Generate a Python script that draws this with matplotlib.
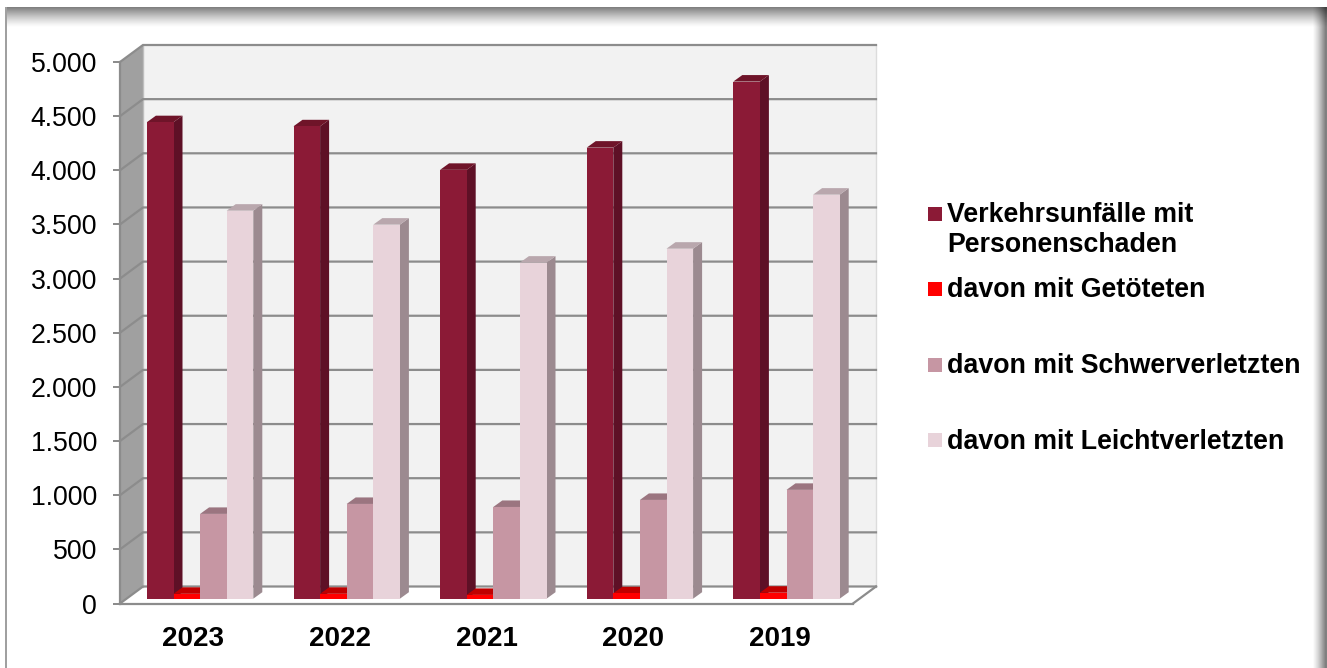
import numpy as np
import matplotlib
matplotlib.use("Agg")
import matplotlib.pyplot as plt
from matplotlib.patches import Polygon, Rectangle

plt.rcParams['font.family'] = ['Liberation Sans', 'DejaVu Sans']

years = ['2023', '2022', '2021', '2020', '2019']
series_names = ['Verkehrsunfälle mit\nPersonenschaden', 'davon mit Getöteten',
                'davon mit Schwerverletzten', 'davon mit Leichtverletzten']
personenschaden = [4400, 4362, 3960, 4165, 4775]
getoetete = [45, 45, 35, 50, 55]
schwerverletzte = [783, 875, 847, 912, 1005]
leichtverletzte = [3583, 3454, 3103, 3232, 3731]
y_ticks = [0, 500, 1000, 1500, 2000, 2500, 3000, 3500, 4000, 4500, 5000]

front = ['#8B1A36', '#FF0000', '#C696A3', '#E8D3DA']
side = ['#5E1026', '#990000', '#8F6C76', '#9C8A90']
top = ['#6F1429', '#C00000', '#9B7580', '#B9A7AD']
GRID = '#8C8C8C'

W, H = 1327, 668
fig = plt.figure(figsize=(W / 100, H / 100), dpi=100, facecolor='white')

# picture frame with soft shadow
bg = fig.add_axes([0, 0, 1, 1], zorder=0)
bg.set_xlim(0, W); bg.set_ylim(H, 0); bg.axis('off')
yy, xx = np.mgrid[0:H, 0:W]
shade_top = np.clip((27 - yy) / 20, 0, 1) ** 1.3 * 0.50
shade_right = np.clip((xx - 1312) / 13, 0, 1) ** 1.3 * 0.50
img = (1 - shade_top) * (1 - shade_right)
img[yy < 7] = 1
img[xx < 6] = 1
bg.imshow(img, cmap='gray', vmin=0, vmax=1, extent=(0, W, H, 0), aspect='auto', interpolation='bilinear')
bg.add_patch(Rectangle((5, 7), 2, H, color='#A0A0A0', lw=0))
bg.set_xlim(0, W); bg.set_ylim(H, 0)

L, R, T, B = 120, 853, 62, 603.5
ax = fig.add_axes([L / W, 1 - B / H, (R - L) / W, (B - T) / H], zorder=1)
ax.patch.set_alpha(0)
ax.set_xlim(0, 5)
ax.set_ylim(0, 5000)
px_x = 5 / (R - L)
px_y = 5000 / (B - T)
dw, dh = 23 * px_x, 17 * px_y   # wall depth

# walls and floor
ax.add_patch(Polygon([(dw, dh), (5 + dw, dh), (5 + dw, 5000 + dh), (dw, 5000 + dh)],
                     fc='#F2F2F2', ec='none', clip_on=False, zorder=1))
ax.add_patch(Polygon([(0, 0), (dw, dh), (dw, 5000 + dh), (0, 5000)],
                     fc='#A0A0A0', ec='none', clip_on=False, zorder=1))
ax.plot([5 + dw, 5 + dw], [dh, 5000 + dh], color='#DCDCDC', lw=1, clip_on=False, zorder=2)
ax.plot([dw, dw], [dh, 5000 + dh], color='#BEBEBE', lw=1, clip_on=False, zorder=2)
for v in y_ticks:
    ax.plot([0, dw, 5 + dw], [v, v + dh, v + dh], color=GRID, lw=1.6, clip_on=False, zorder=2,
            solid_joinstyle='miter')
ax.plot([5, 5 + dw], [0, dh], color=GRID, lw=1.6, clip_on=False, zorder=2)

# bars (oblique 3-D look)
all_series = [personenschaden, getoetete, schwerverletzte, leichtverletzte]
w = 26.6 / 146.6
off_x, off_y = 6.8 * px_x, 4.8 * px_y
dx, dy = 9 * px_x, 6.5 * px_y
z = 3
for i in range(len(years)):
    for j, vals in enumerate(all_series):
        v = vals[i]
        x0 = i + 0.5 + (j - 2) * w + off_x
        y0 = off_y
        ax.add_patch(Polygon([(x0 + w, y0), (x0 + w + dx, y0 + dy), (x0 + w + dx, y0 + v + dy), (x0 + w, y0 + v)],
                             fc=side[j], ec='none', clip_on=False, zorder=z))
        ax.add_patch(Polygon([(x0, y0 + v), (x0 + dx, y0 + v + dy), (x0 + w + dx, y0 + v + dy), (x0 + w, y0 + v)],
                             fc=top[j], ec='none', clip_on=False, zorder=z))
        ax.bar(x0, v, w, bottom=y0, align='edge', color=front[j], clip_on=False, zorder=z + 0.5)
        z += 1

ax.set_xticks(np.arange(len(years)) + 0.5)
ax.set_xticklabels(years, fontsize=20, fontweight='bold', color='black')
ax.set_yticks(y_ticks)
ax.set_yticklabels([f'{v:,}'.replace(',', '.') for v in y_ticks], fontsize=19.2, color='black')
ax.tick_params(axis='x', length=0, pad=16.5)
ax.tick_params(axis='y', length=5, width=1.44, color=GRID, pad=11.5)
for s in ['top', 'right']:
    ax.spines[s].set_visible(False)
for s in ['left', 'bottom']:
    ax.spines[s].set_color(GRID)
    ax.spines[s].set_linewidth(1.6)
    ax.spines[s].set_zorder(200)

# legend
leg_centers = [214, 289, 365, 440]
leg_text_y = [230, 290, 366, 442]
for name, c, ym, yt in zip(series_names, front, leg_centers, leg_text_y):
    bg.add_patch(Rectangle((928, ym - 7), 14, 14, color=c, lw=0))
    bg.text(947, yt, name, fontsize=19.3, fontweight='bold', color='black', va='center', ha='left', linespacing=1.2)

fig.savefig('out.png', dpi=100)
